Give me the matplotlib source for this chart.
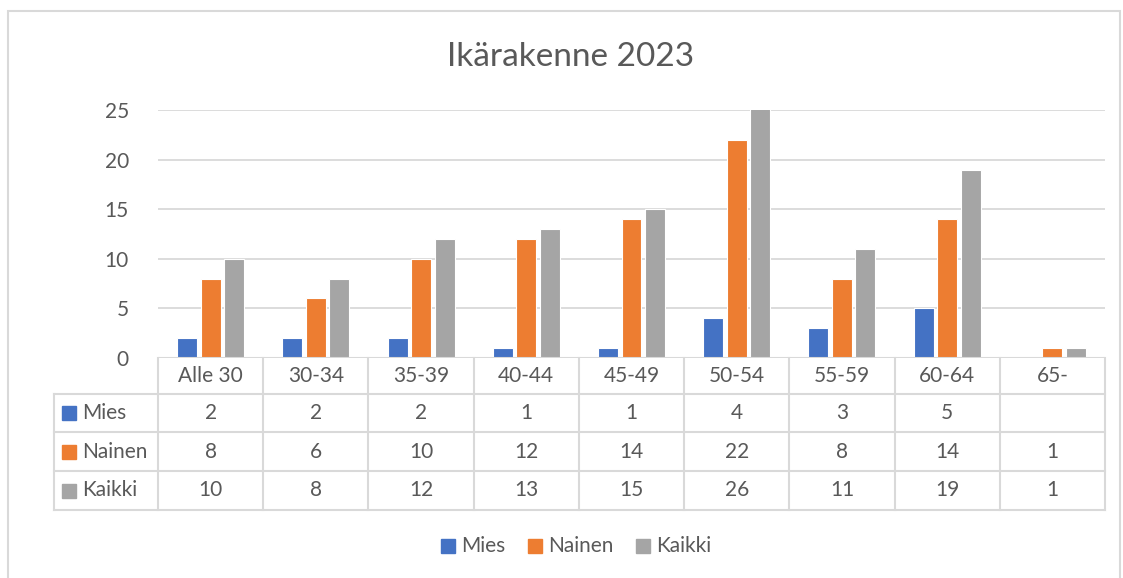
import matplotlib.pyplot as plt
import numpy as np

plt.rcParams['font.family'] = ['Lato', 'DejaVu Sans']

categories = ['Alle 30', '30-34', '35-39', '40-44', '45-49', '50-54', '55-59', '60-64', '65-']
series = ['Mies', 'Nainen', 'Kaikki']
mies = [2, 2, 2, 1, 1, 4, 3, 5, None]
nainen = [8, 6, 10, 12, 14, 22, 8, 14, 1]
kaikki = [10, 8, 12, 13, 15, 26, 11, 19, 1]
colors = ['#4472C4', '#ED7D31', '#A5A5A5']
title = 'Ikärakenne 2023'

W, H = 1123, 578
TXT = '#595959'
LINE = '#d9d9d9'
FS = 15

fig = plt.figure(figsize=(W / 100, H / 100), dpi=100)


def fx(px):
    return px / W


def fy(py):
    return 1 - py / H


# outer chart border
fig.patches.append(plt.Rectangle((fx(8), fy(600)), fx(1112), 600 / H - 11 / H,
                                 transform=fig.transFigure, fill=False,
                                 edgecolor=LINE, lw=1.5, clip_on=True))

left, right, top, bottom = 158, 1105, 110, 358
ax = fig.add_axes([fx(left), fy(bottom), fx(right - left), (bottom - top) / H])
ax.set_xlim(0, len(categories))
ax.set_ylim(0, 25)
for s in ax.spines.values():
    s.set_visible(False)
ax.set_yticks(range(0, 26, 5))
ax.yaxis.grid(True, color=LINE, lw=1.3)
ax.set_axisbelow(True)
ax.tick_params(axis='y', length=0, labelsize=FS, labelcolor=TXT, pad=21)
ax.set_xticks([])

x = np.arange(len(categories)) + 0.5
width = 0.19
step = 0.223
for i, (vals, c) in enumerate(zip([mies, nainen, kaikki], colors)):
    v = [np.nan if a is None else a for a in vals]
    ax.bar(x + (i - 1) * step, v, width, color=c, edgecolor='white', lw=0.8, zorder=3)

ax.axhline(0, color=LINE, lw=1.5, zorder=4)

# data table
rows = [bottom, 394, 432, 471, 510]
col_x = [left + (right - left) * k / len(categories) for k in range(len(categories) + 1)]
lab_left = 54
for ry in rows[1:]:
    fig.add_artist(plt.Line2D([fx(lab_left), fx(right)], [fy(ry), fy(ry)], color=LINE, lw=1.5))
fig.add_artist(plt.Line2D([fx(lab_left), fx(lab_left)], [fy(rows[1]), fy(rows[-1])], color=LINE, lw=1.5))
for cx in col_x:
    fig.add_artist(plt.Line2D([fx(cx), fx(cx)], [fy(rows[0]), fy(rows[-1])], color=LINE, lw=1.5))

for k, cat in enumerate(categories):
    cx = (col_x[k] + col_x[k + 1]) / 2
    fig.text(fx(cx), fy((rows[0] + rows[1]) / 2), cat, ha='center', va='center',
             fontsize=FS, color=TXT)

for r, (name, vals, c) in enumerate(zip(series, [mies, nainen, kaikki], colors)):
    cy = (rows[r + 1] + rows[r + 2]) / 2
    fig.patches.append(plt.Rectangle((fx(62), fy(cy + 7)), fx(14), 14 / H,
                                     transform=fig.transFigure, color=c))
    fig.text(fx(82), fy(cy), name, ha='left', va='center', fontsize=FS, color=TXT)
    for k, v in enumerate(vals):
        if v is None:
            continue
        cx = (col_x[k] + col_x[k + 1]) / 2
        fig.text(fx(cx), fy(cy), str(v), ha='center', va='center', fontsize=FS, color=TXT)

# title
fig.text(fx(571), fy(57), title, ha='center', va='center', fontsize=24, color=TXT)

# legend
leg_x = [441, 528, 636]
for name, c, lx in zip(series, colors, leg_x):
    fig.patches.append(plt.Rectangle((fx(lx), fy(553)), fx(14), 14 / H,
                                     transform=fig.transFigure, color=c))
    fig.text(fx(lx + 20), fy(546), name, ha='left', va='center', fontsize=FS, color=TXT)

fig.savefig('out.png', dpi=100)
